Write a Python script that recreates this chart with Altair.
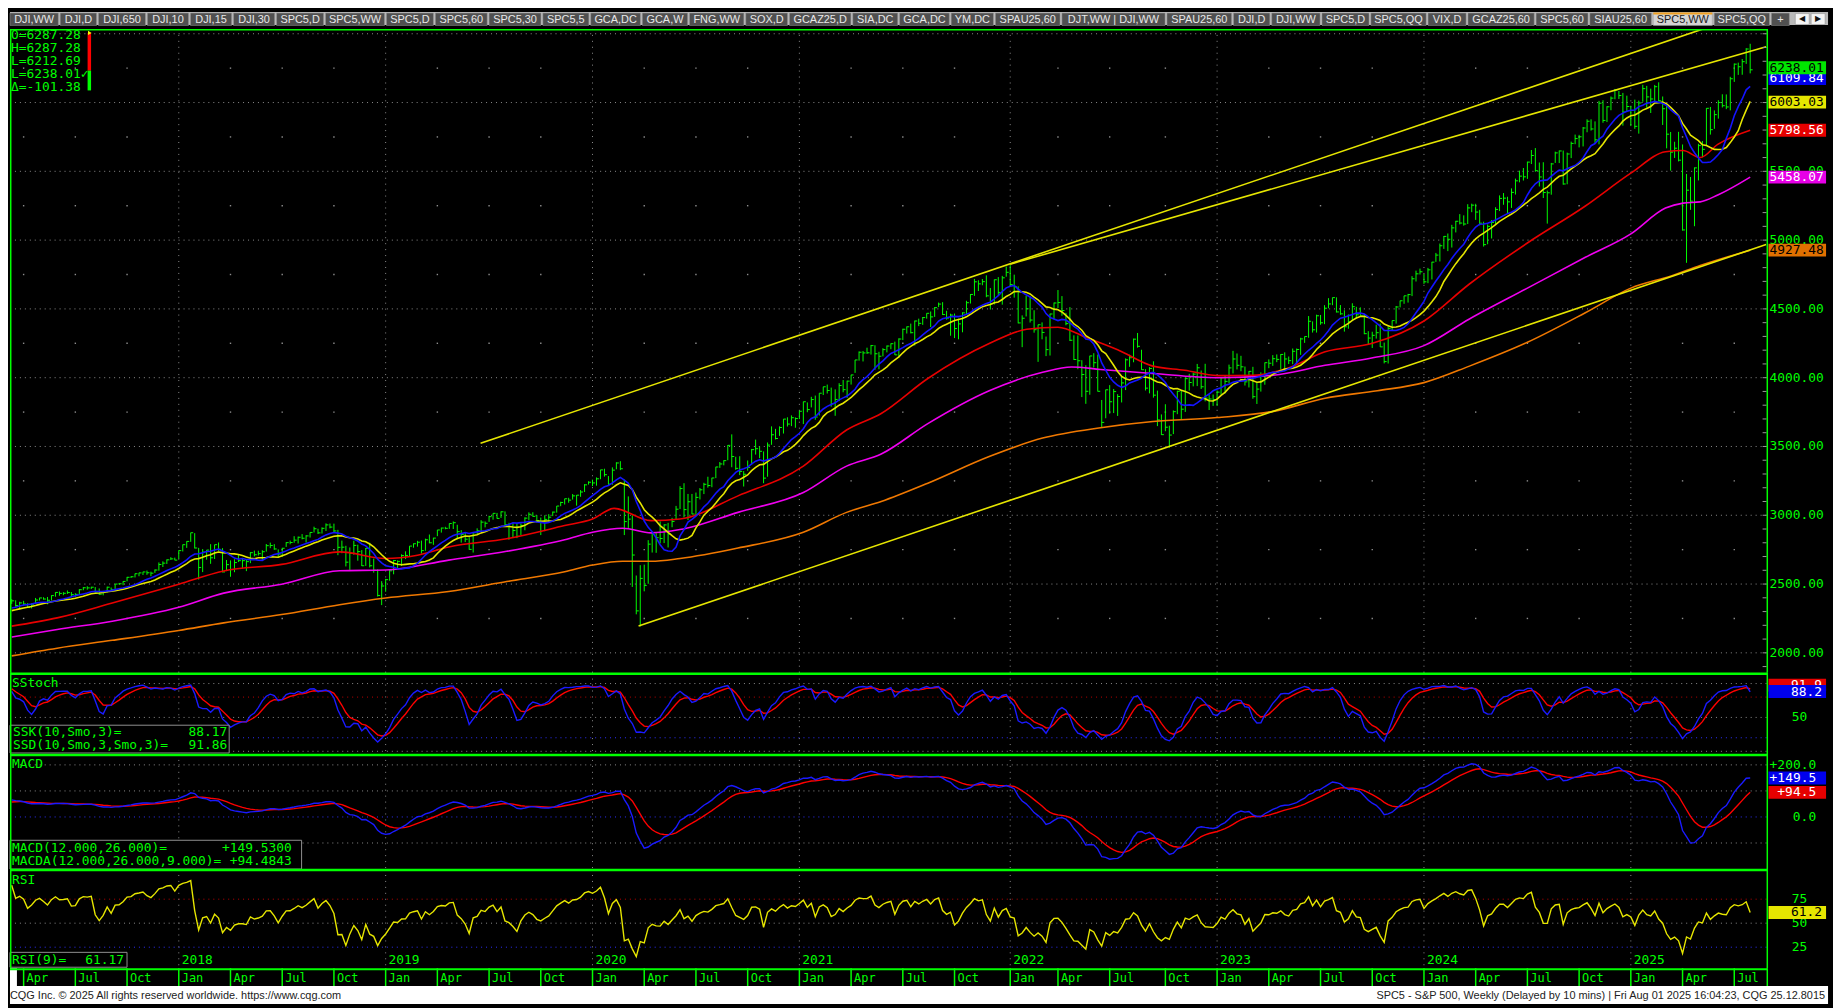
import altair as alt
import pandas as pd
import numpy as np

# ---------------- weekly S&P 500 bars ----------------
# warm-up weeks (Nov 2016 - Mar 10 2017), not displayed, feed the studies
close_w = [2085, 2164, 2182, 2213, 2192, 2259, 2258, 2264, 2239, 2277, 2275, 2271, 2295, 2297, 2316, 2351, 2367, 2383, 2372]
high_w = [2112, 2182, 2189, 2214, 2214, 2260, 2278, 2272, 2273, 2282, 2279, 2278, 2300, 2299, 2319, 2352, 2368, 2401, 2383]
low_w = [2084, 2084, 2156, 2184, 2187, 2192, 2248, 2253, 2233, 2245, 2258, 2258, 2262, 2268, 2288, 2312, 2349, 2358, 2355]

close_2017 = [2378, 2344, 2363, 2355, 2329, 2349, 2384, 2399, 2391, 2382, 2416, 2439, 2432, 2433, 2438, 2423, 2425, 2459, 2473, 2472, 2477, 2441, 2426, 2443, 2477, 2461, 2500, 2502, 2519, 2549, 2553, 2575, 2581, 2588, 2582, 2579, 2602, 2642, 2652, 2676, 2683, 2674]
high_2017 = [2390, 2382, 2371, 2378, 2361, 2361, 2399, 2400, 2404, 2406, 2418, 2440, 2446, 2441, 2453, 2442, 2433, 2463, 2478, 2484, 2480, 2478, 2468, 2451, 2481, 2475, 2500, 2508, 2520, 2552, 2557, 2576, 2582, 2589, 2598, 2590, 2606, 2657, 2665, 2679, 2695, 2692]
low_2017 = [2356, 2335, 2322, 2344, 2328, 2323, 2355, 2380, 2387, 2353, 2380, 2408, 2415, 2419, 2428, 2405, 2407, 2421, 2455, 2459, 2464, 2437, 2421, 2418, 2438, 2447, 2464, 2496, 2492, 2520, 2544, 2548, 2557, 2566, 2567, 2557, 2581, 2597, 2624, 2646, 2675, 2673]

close_2018 = [2743, 2786, 2810, 2873, 2762, 2620, 2732, 2747, 2691, 2786, 2752, 2588, 2641, 2605, 2656, 2670, 2670, 2663, 2728, 2713, 2721, 2735, 2779, 2780, 2755, 2718, 2760, 2801, 2802, 2819, 2840, 2833, 2850, 2875, 2902, 2872, 2905, 2930, 2914, 2886, 2767, 2768, 2659, 2723, 2781, 2736, 2633, 2760, 2633, 2600, 2417, 2486]
high_2018 = [2745, 2787, 2811, 2873, 2870, 2763, 2754, 2747, 2790, 2786, 2802, 2761, 2675, 2672, 2680, 2717, 2683, 2682, 2732, 2743, 2742, 2746, 2791, 2801, 2790, 2752, 2763, 2804, 2816, 2848, 2845, 2863, 2855, 2876, 2917, 2902, 2912, 2941, 2940, 2939, 2894, 2816, 2778, 2766, 2815, 2786, 2747, 2762, 2800, 2685, 2607, 2521]
low_2018 = [2683, 2737, 2763, 2807, 2759, 2533, 2587, 2677, 2647, 2682, 2741, 2585, 2594, 2553, 2586, 2660, 2613, 2594, 2652, 2701, 2707, 2676, 2736, 2761, 2749, 2699, 2698, 2770, 2789, 2800, 2795, 2825, 2802, 2838, 2875, 2864, 2867, 2886, 2905, 2874, 2710, 2724, 2628, 2603, 2713, 2670, 2631, 2632, 2621, 2583, 2409, 2347]

close_2019 = [2532, 2596, 2671, 2665, 2707, 2708, 2776, 2793, 2804, 2743, 2822, 2800, 2834, 2893, 2907, 2905, 2940, 2946, 2881, 2860, 2826, 2752, 2873, 2887, 2950, 2942, 2990, 3014, 2977, 3025, 2932, 2919, 2889, 2847, 2926, 2979, 3007, 2992, 2962, 2952, 2970, 2986, 3023, 3067, 3093, 3120, 3110, 3141, 3146, 3169, 3221, 3240]
high_2019 = [2538, 2604, 2675, 2672, 2716, 2738, 2776, 2795, 2814, 2816, 2830, 2860, 2836, 2893, 2910, 2916, 2940, 2955, 2931, 2892, 2875, 2841, 2877, 2905, 2964, 2955, 2996, 3014, 3017, 3028, 3028, 2945, 2944, 2939, 2940, 2985, 3021, 3022, 3002, 2983, 3000, 3008, 3027, 3067, 3098, 3120, 3127, 3154, 3147, 3183, 3226, 3247]
low_2019 = [2444, 2524, 2571, 2613, 2631, 2682, 2699, 2764, 2772, 2722, 2742, 2796, 2785, 2848, 2874, 2898, 2901, 2900, 2825, 2801, 2805, 2750, 2729, 2859, 2880, 2912, 2952, 2968, 2975, 2981, 2914, 2822, 2840, 2834, 2856, 2891, 2964, 2990, 2946, 2856, 2884, 2952, 2994, 3019, 3066, 3078, 3091, 3114, 3070, 3134, 3169, 3223]

close_2020 = [3235, 3265, 3330, 3295, 3226, 3328, 3380, 3338, 2954, 2972, 2711, 2305, 2541, 2489, 2790, 2875, 2837, 2831, 2930, 2864, 2955, 3044, 3194, 3041, 3098, 3009, 3130, 3185, 3225, 3216, 3271, 3351, 3373, 3397, 3508, 3427, 3341, 3319, 3298, 3348, 3477, 3484, 3465, 3270, 3510, 3585, 3558, 3638, 3699, 3663, 3709, 3703, 3756]
high_2020 = [3259, 3275, 3330, 3338, 3285, 3348, 3385, 3393, 3259, 3137, 3000, 2562, 2637, 2641, 2819, 2880, 2870, 2955, 2934, 2945, 2981, 3068, 3211, 3233, 3155, 3155, 3165, 3198, 3236, 3280, 3272, 3352, 3387, 3399, 3510, 3588, 3425, 3429, 3321, 3398, 3482, 3550, 3501, 3464, 3529, 3646, 3628, 3646, 3699, 3712, 3726, 3711, 3760]
low_2020 = [3212, 3215, 3262, 3281, 3214, 3222, 3334, 3328, 2856, 2901, 2479, 2280, 2191, 2447, 2502, 2729, 2727, 2797, 2798, 2766, 2913, 2969, 3045, 2984, 2965, 3008, 3002, 3115, 3154, 3201, 3204, 3270, 3344, 3363, 3400, 3349, 3330, 3292, 3209, 3324, 3366, 3441, 3415, 3233, 3280, 3512, 3551, 3577, 3594, 3645, 3648, 3636, 3699]

close_2021 = [3825, 3768, 3841, 3714, 3887, 3934, 3907, 3811, 3842, 3943, 3913, 3975, 4020, 4129, 4185, 4180, 4181, 4233, 4174, 4156, 4204, 4230, 4247, 4166, 4281, 4352, 4370, 4327, 4412, 4395, 4437, 4468, 4442, 4509, 4535, 4459, 4433, 4455, 4357, 4391, 4471, 4545, 4605, 4697, 4682, 4698, 4595, 4538, 4712, 4620, 4726, 4766]
high_2021 = [3826, 3820, 3861, 3870, 3887, 3934, 3950, 3928, 3915, 3960, 3983, 3978, 4021, 4129, 4191, 4194, 4218, 4238, 4236, 4188, 4214, 4234, 4249, 4262, 4286, 4356, 4372, 4393, 4415, 4429, 4441, 4468, 4481, 4513, 4546, 4549, 4486, 4465, 4466, 4429, 4475, 4559, 4608, 4718, 4708, 4717, 4744, 4652, 4713, 4731, 4740, 4808]
low_2021 = [3663, 3749, 3784, 3694, 3725, 3874, 3885, 3789, 3723, 3830, 3894, 3853, 3950, 4035, 4124, 4118, 4173, 4168, 4057, 4061, 4155, 4184, 4207, 4165, 4144, 4273, 4321, 4322, 4234, 4375, 4384, 4429, 4368, 4442, 4513, 4456, 4422, 4305, 4288, 4279, 4330, 4461, 4539, 4595, 4630, 4672, 4585, 4495, 4532, 4600, 4531, 4734]

close_2022 = [4677, 4663, 4398, 4432, 4501, 4419, 4349, 4385, 4329, 4204, 4463, 4543, 4546, 4488, 4393, 4272, 4132, 4123, 4023, 3901, 4158, 4109, 3901, 3675, 3912, 3825, 3899, 3863, 3962, 4130, 4145, 4280, 4228, 4058, 3924, 4067, 3873, 3693, 3586, 3640, 3583, 3753, 3901, 3771, 3993, 3965, 4026, 4072, 3934, 3852, 3845, 3840]
high_2022 = [4818, 4749, 4664, 4453, 4595, 4590, 4490, 4385, 4402, 4299, 4465, 4546, 4637, 4593, 4471, 4513, 4308, 4307, 4127, 4090, 4159, 4178, 4168, 3838, 3913, 3946, 3918, 3880, 4013, 4140, 4167, 4284, 4325, 4203, 4062, 4077, 4119, 3906, 3733, 3807, 3651, 3762, 3905, 3912, 4001, 4028, 4035, 4100, 4052, 4101, 3876, 3878]
low_2022 = [4662, 4582, 4395, 4222, 4445, 4401, 4327, 4115, 4279, 4157, 4161, 4424, 4506, 4450, 4381, 4267, 4129, 4062, 3859, 3810, 3876, 4074, 3900, 3636, 3705, 3738, 3743, 3722, 3820, 3910, 4079, 4112, 4218, 4057, 3907, 3886, 3855, 3648, 3584, 3611, 3491, 3590, 3735, 3698, 3751, 3906, 3937, 3939, 3918, 3828, 3765, 3795]

close_2023 = [3895, 3999, 3973, 4071, 4136, 4090, 4079, 3970, 4046, 3862, 3917, 3971, 4109, 4105, 4138, 4133, 4169, 4136, 4124, 4192, 4205, 4282, 4299, 4410, 4348, 4450, 4399, 4505, 4536, 4582, 4478, 4464, 4370, 4406, 4516, 4457, 4450, 4320, 4288, 4308, 4327, 4224, 4117, 4358, 4415, 4514, 4559, 4595, 4604, 4719, 4755, 4770]
high_2023 = [3907, 4004, 4015, 4095, 4195, 4176, 4159, 4081, 4048, 4079, 3964, 4039, 4110, 4133, 4164, 4169, 4171, 4184, 4154, 4212, 4212, 4290, 4299, 4448, 4409, 4458, 4456, 4527, 4578, 4582, 4584, 4528, 4490, 4460, 4541, 4515, 4511, 4464, 4338, 4334, 4385, 4393, 4255, 4374, 4415, 4521, 4560, 4595, 4609, 4738, 4778, 4793]
low_2023 = [3794, 3877, 3886, 3959, 4031, 4060, 4047, 3943, 3929, 3847, 3809, 3899, 3949, 4069, 4086, 4113, 4049, 4048, 4099, 4098, 4103, 4166, 4253, 4290, 4328, 4328, 4385, 4389, 4505, 4527, 4474, 4457, 4335, 4356, 4415, 4430, 4447, 4316, 4238, 4216, 4284, 4223, 4104, 4103, 4340, 4393, 4511, 4537, 4546, 4593, 4699, 4750]

close_2024 = [4697, 4784, 4840, 4891, 4959, 5027, 5006, 5089, 5137, 5124, 5117, 5234, 5254, 5204, 5123, 4967, 5100, 5128, 5223, 5303, 5305, 5278, 5347, 5431, 5465, 5460, 5567, 5615, 5505, 5459, 5346, 5344, 5554, 5634, 5648, 5408, 5626, 5703, 5738, 5751, 5815, 5864, 5808, 5729, 5995, 5870, 5969, 6032, 6090, 6051, 5931, 5971]
high_2024 = [4754, 4798, 4842, 4907, 4975, 5030, 5048, 5111, 5140, 5189, 5180, 5261, 5265, 5264, 5220, 5134, 5114, 5146, 5239, 5325, 5342, 5315, 5376, 5447, 5505, 5524, 5570, 5655, 5669, 5564, 5566, 5360, 5561, 5643, 5651, 5651, 5636, 5716, 5767, 5765, 5822, 5878, 5878, 5863, 6012, 6017, 5973, 6044, 6099, 6085, 6070, 6050]
low_2024 = [4682, 4687, 4714, 4842, 4845, 4936, 4920, 4946, 5056, 5114, 5105, 5117, 5203, 5147, 5107, 4953, 4970, 5012, 5114, 5211, 5257, 5191, 5234, 5331, 5420, 5433, 5445, 5553, 5497, 5390, 5306, 5120, 5330, 5561, 5560, 5403, 5406, 5596, 5697, 5674, 5681, 5784, 5796, 5706, 5696, 5853, 5858, 5944, 6024, 6026, 5832, 5933]

close_2025 = [5942, 5827, 5997, 6101, 6041, 6026, 6115, 6013, 5955, 5770, 5639, 5668, 5581, 5074, 5363, 5283, 5525, 5687, 5660, 5958, 5803, 5912, 6000, 5977, 5968, 6173, 6279, 6260, 6297, 6389, 6238]
high_2025 = [5977, 6021, 6014, 6129, 6121, 6101, 6128, 6147, 6044, 5986, 5786, 5715, 5787, 5695, 5481, 5459, 5528, 5700, 5720, 5959, 5968, 5943, 6017, 6060, 6059, 6187, 6284, 6290, 6316, 6395, 6427]
low_2025 = [5829, 5809, 5774, 6006, 5962, 5924, 6004, 6009, 5837, 5667, 5505, 5597, 5572, 5069, 4835, 5220, 5101, 5434, 5603, 5691, 5767, 5809, 5883, 5964, 5952, 5943, 6150, 6201, 6202, 6281, 6212]

# moving averages (red, magenta, orange)
ma_red_d = ["2017-03-17", "2017-06-05", "2017-09-10", "2018-01-05", "2018-03-25", "2018-07-05", "2018-10-15", "2019-01-04", "2019-03-01", "2019-04-25", "2019-08-05", "2019-11-15", "2020-01-03", "2020-02-10", "2020-04-15", "2020-06-05", "2020-09-15", "2021-01-08", "2021-03-25", "2021-05-25", "2021-08-15", "2021-12-01", "2022-02-05", "2022-04-01", "2022-05-20", "2022-07-15", "2022-09-15", "2022-11-10", "2023-01-06", "2023-03-10", "2023-05-10", "2023-07-15", "2023-10-05", "2024-01-05", "2024-03-25", "2024-07-05", "2024-10-15", "2025-01-03", "2025-03-05", "2025-04-05", "2025-05-05", "2025-06-05", "2025-08-01"]
ma_red_v = [2194, 2254, 2362, 2499, 2595, 2643, 2734, 2686, 2710, 2770, 2829, 2925, 2973, 3050, 2961, 2973, 3141, 3357, 3620, 3740, 3994, 4248, 4352, 4367, 4293, 4203, 4084, 4054, 4015, 4018, 4069, 4188, 4248, 4412, 4681, 4979, 5248, 5487, 5642, 5651, 5600, 5696, 5799]
ma_mag_d = ["2017-03-17", "2017-06-05", "2017-09-10", "2018-01-05", "2018-03-25", "2018-07-05", "2018-10-15", "2019-01-04", "2019-04-25", "2019-08-05", "2019-11-15", "2020-01-03", "2020-02-25", "2020-04-15", "2020-06-05", "2020-09-15", "2021-01-08", "2021-03-25", "2021-05-25", "2021-08-15", "2021-12-01", "2022-03-05", "2022-04-25", "2022-06-15", "2022-09-15", "2023-01-06", "2023-04-15", "2023-07-15", "2023-10-05", "2024-01-05", "2024-03-25", "2024-07-05", "2024-10-15", "2025-01-03", "2025-03-05", "2025-04-05", "2025-05-05", "2025-06-05", "2025-08-01"]
ma_mag_v = [2115, 2170, 2230, 2331, 2434, 2499, 2597, 2602, 2674, 2738, 2822, 2877, 2906, 2872, 2896, 3021, 3165, 3357, 3445, 3666, 3905, 4039, 4078, 4060, 4030, 4000, 4018, 4090, 4143, 4233, 4427, 4651, 4875, 5045, 5233, 5269, 5278, 5328, 5458]
ma_org_d = ["2017-03-17", "2017-06-05", "2017-09-10", "2018-01-05", "2018-03-25", "2018-07-05", "2018-10-15", "2019-01-04", "2019-04-25", "2019-08-05", "2019-11-15", "2020-01-03", "2020-02-25", "2020-04-15", "2020-06-05", "2020-09-15", "2021-01-08", "2021-03-25", "2021-05-25", "2021-08-15", "2021-12-01", "2022-03-05", "2022-06-15", "2022-09-15", "2023-01-06", "2023-04-15", "2023-07-15", "2023-10-15", "2024-01-05", "2024-03-25", "2024-07-05", "2024-10-15", "2025-01-03", "2025-03-15", "2025-05-05", "2025-08-01"]
ma_org_v = [1978, 2034, 2091, 2163, 2218, 2278, 2350, 2398, 2446, 2518, 2590, 2638, 2666, 2666, 2686, 2762, 2877, 3021, 3100, 3233, 3427, 3561, 3636, 3681, 3710, 3755, 3851, 3905, 3964, 4084, 4257, 4472, 4651, 4740, 4815, 4927]

# yellow channel lines (start date/value, end date/value)
tl_d1 = ["2019-06-20", "2022-01-07", "2020-03-24"]
tl_v1 = [3523, 4825, 2195]
tl_d2 = ["2025-05-10", "2025-08-29", "2025-08-29"]
tl_v2 = [6535, 6405, 4968]

# study values shown in the boxes
last_vals = {"close": 6238.01, "blue": 6109.84, "yellow": 6003.03, "red": 5798.56, "magenta": 5458.07, "orange": 4927.48}
ssk_last, ssd_last = 88.17, 91.86
macd_last, macda_last = 149.53, 94.4843
rsi_last = 61.17

tab_labels = ["DJI,WW", "DJI,D", "DJI,650", "DJI,10", "DJI,15", "DJI,30", "SPC5,D", "SPC5,WW", "SPC5,D", "SPC5,60", "SPC5,30", "SPC5,5", "GCA,DC", "GCA,W", "FNG,WW", "SOX,D", "GCAZ25,D", "SIA,DC", "GCA,DC", "YM,DC", "SPAU25,60", "DJT,WW  |  DJI,WW", "SPAU25,60", "DJI,D", "DJI,WW", "SPC5,D", "SPC5,QQ", "VIX,D", "GCAZ25,60", "SPC5,60", "SIAU25,60", "SPC5,WW", "SPC5,QQ", "+"]
SEL_TAB = 31

# ---------------- assemble ----------------
closes = close_w + close_2017 + close_2018 + close_2019 + close_2020 + close_2021 + close_2022 + close_2023 + close_2024 + close_2025
highs = high_w + high_2017 + high_2018 + high_2019 + high_2020 + high_2021 + high_2022 + high_2023 + high_2024 + high_2025
lows = low_w + low_2017 + low_2018 + low_2019 + low_2020 + low_2021 + low_2022 + low_2023 + low_2024 + low_2025
assert len(closes) == len(highs) == len(lows) == 457, (len(closes), len(highs), len(lows))

dates = pd.date_range("2016-11-04", periods=len(closes), freq="W-FRI")
df = pd.DataFrame({"date": dates, "close": np.array(closes, float), "high": np.array(highs, float), "low": np.array(lows, float)})
df["high"] = np.maximum(df["high"], df["close"])
df["low"] = np.minimum(df["low"], df["close"])
df["blue"] = df["close"].rolling(11).mean()
df["yellow"] = df["close"].rolling(15).mean()
hh = df["high"].rolling(10).max()
ll = df["low"].rolling(10).min()
fk = 100 * (df["close"] - ll) / (hh - ll)
df["ssk"] = fk.ewm(alpha=1 / 3, adjust=False).mean()
df["ssd"] = df["ssk"].ewm(alpha=1 / 3, adjust=False).mean()
e12 = df["close"].ewm(span=12, adjust=False).mean()
e26 = df["close"].ewm(span=26, adjust=False).mean()
df["macd"] = e12 - e26
df["sig"] = df["macd"].ewm(span=9, adjust=False).mean()
dd = df["close"].diff()
ag = dd.clip(lower=0).ewm(alpha=1 / 9, adjust=False).mean()
al = (-dd).clip(lower=0).ewm(alpha=1 / 9, adjust=False).mean()
df["rsi"] = 100 - 100 / (1 + ag / al)
dfd = df[df["date"] >= pd.Timestamp("2017-03-17")].reset_index(drop=True)

mdf = dfd[["date"]].copy()
mdf["y"] = mdf["date"].dt.year
mdf["m"] = mdf["date"].dt.month
firsts = mdf.groupby(["y", "m"], as_index=False)["date"].min()
qf = firsts[firsts["m"].isin([1, 4, 7, 10])].copy()
qf["lab"] = qf["m"].map({1: "Jan", 4: "Apr", 7: "Jul", 10: "Oct"})
yr = qf[qf["m"] == 1].copy()
yr["ylab"] = yr["y"].astype(str)
qq = qf[qf["m"] != 1]

# ---------------- layout ----------------
W = 1833
PX = 1771
H_TABS, H_MAIN, H_STO, H_MACD, H_RSI, H_XAX, H_FOOT = 17, 649, 82, 116, 100, 18, 18
GREEN = "#00ff00"
GRID = "#8c8c8c"
MONO = "DejaVu Sans Mono"
SANS = "Liberation Sans"
X_DOMAIN = [alt.DateTime(year=2017, month=3, date=14), alt.DateTime(year=2025, month=12, date=16)]
MAIN_DOM = [1856, 6535]
STO_DOM = [-3.95, 116.1]
MACD_DOM = [-200, 241.9]
RSI_DOM = [3.1, 106.4]

one = pd.DataFrame({"k": [0]})


def XT(field="date"):
    return alt.X(f"{field}:T", scale=alt.Scale(domain=X_DOMAIN), axis=None)


def Y(field, dom):
    return alt.Y(f"{field}:Q", scale=alt.Scale(domain=dom, nice=False, zero=False), axis=None)


def txt(s, x, y, color=GREEN, size=13, align="left", font=MONO):
    return alt.Chart(one).mark_text(text=s, align=align, baseline="middle", font=font, fontSize=size, color=color).encode(
        x=alt.value(x), y=alt.value(y))


def prule(x1, x2, y1, y2, color, width=1.0, dash=None):
    kw = dict(color=color, strokeWidth=width)
    if dash:
        kw["strokeDash"] = dash
    return alt.Chart(one).mark_rule(**kw).encode(x=alt.value(x1), x2=alt.value(x2), y=alt.value(y1), y2=alt.value(y2))


def prect(x1, x2, y1, y2, fill, stroke=None, sw=1.0):
    kw = dict(fill=fill)
    if stroke:
        kw.update(stroke=stroke, strokeWidth=sw)
    return alt.Chart(one).mark_rect(**kw).encode(x=alt.value(x1), x2=alt.value(x2), y=alt.value(y1), y2=alt.value(y2))


def vbox(val, label, fill, tcolor, dom, yoff=0, x0=1773, x1=1831, tx=1827, align="right", h=13):
    d = pd.DataFrame({"v": [val]})
    r = alt.Chart(d).mark_rule(color=fill, strokeWidth=h, yOffset=yoff, y2Offset=yoff).encode(
        x=alt.value(x0), x2=alt.value(x1), y=Y("v", dom))
    t = alt.Chart(d).mark_text(text=label, align=align, baseline="middle", font=MONO, fontSize=13, color=tcolor,
                               yOffset=yoff).encode(x=alt.value(tx), y=Y("v", dom))
    return [r, t]


def hlines(levels, colors, dom):
    d = pd.DataFrame({"v": levels, "c": colors})
    return alt.Chart(d).mark_rule(strokeDash=[1, 4], strokeWidth=1).encode(
        x=alt.value(0), x2=alt.value(PX), y=Y("v", dom), color=alt.Color("c:N", scale=None))


def vlines(h):
    return alt.Chart(yr).mark_rule(color=GRID, strokeDash=[1, 5], strokeWidth=1).encode(
        x=XT(), y=alt.value(0), y2=alt.value(h))


def frame(h, top=True):
    out = [prule(PX + 0.75, PX + 0.75, 0, h, GREEN, 1.5), prule(0.75, 0.75, 0, h, GREEN, 1.5)]
    if top:
        out.append(prule(0, PX + 1, 1, 1, GREEN, 2.5))
    return out


# ---------------- tabs ----------------
def cw(c):
    if c == "W":
        return 10.0
    if c in "MGOQ":
        return 8.0
    if c in "DCAUVHNZ":
        return 7.3
    if c in "SPYFXTEBKR":
        return 6.8
    if c == "J":
        return 5.0
    if c in "I|":
        return 3.5
    if c == ",":
        return 3.3
    if c.isdigit():
        return 6.2
    if c == " ":
        return 3.0
    if c == "+":
        return 7.0
    return 6.5


raw = [sum(cw(c) for c in s) + 12 for s in tab_labels]
gap = 2.0
scl = 1794.0 / (sum(raw) + gap * (len(raw) - 1))
x0s, x1s = [], []
xc = 0.0
for wv in raw:
    x0s.append(xc)
    x1s.append(xc + wv * scl)
    xc += (wv + gap) * scl
tabs = pd.DataFrame({"lab": tab_labels, "x0": x0s, "x1": x1s, "sel": [i == SEL_TAB for i in range(len(tab_labels))]})
tabs["xm"] = (tabs["x0"] + tabs["x1"]) / 2
PXS = alt.Scale(domain=[0, W], range=[0, W], nice=False, zero=False)
tab_layers = [
    prect(0, W, 0, 13, "#b9b9b9"),
    alt.Chart(tabs).mark_rect(stroke="#9a9a9a", strokeWidth=0.5).encode(
        x=alt.X("x0:Q", scale=PXS, axis=None), x2="x1:Q", y=alt.value(1), y2=alt.value(13.5),
        fill=alt.condition("datum.sel", alt.value("#d4d4d4"), alt.value("#505050"))),
    alt.Chart(tabs).transform_filter("datum.sel").mark_rule(color="#f0a020", strokeWidth=2).encode(
        x=alt.X("x0:Q", scale=PXS, axis=None), x2="x1:Q", y=alt.value(1.5)),
    alt.Chart(tabs).mark_text(font=SANS, fontSize=11, baseline="middle", align="center").encode(
        x=alt.X("xm:Q", scale=PXS, axis=None), y=alt.value(7.8), text="lab:N",
        color=alt.condition("datum.sel", alt.value("#1a1a1a"), alt.value("#e8e8e8"))),
    prect(1800, 1814, 1.5, 12.5, "#f4f4f4", "#888888", 0.5),
    prect(1816, 1830, 1.5, 12.5, "#f4f4f4", "#888888", 0.5),
    txt("◀", 1807, 7.5, "#111111", 8, "center", SANS),
    txt("▶", 1823, 7.5, "#111111", 8, "center", SANS),
]
tab_chart = alt.layer(*tab_layers).properties(width=W, height=H_TABS)

# ---------------- main price panel ----------------
hg = pd.DataFrame({"v": list(range(2000, 6501, 500))})
qdots = qq[["date"]].merge(pd.DataFrame({"v": list(range(2250, 6300, 500))}), how="cross")
ma_red = pd.DataFrame({"date": pd.to_datetime(ma_red_d), "v": ma_red_v})
ma_mag = pd.DataFrame({"date": pd.to_datetime(ma_mag_d), "v": ma_mag_v})
ma_org = pd.DataFrame({"date": pd.to_datetime(ma_org_d), "v": ma_org_v})
tls = pd.DataFrame({"d1": pd.to_datetime(tl_d1), "v1": tl_v1, "d2": pd.to_datetime(tl_d2), "v2": tl_v2})
ticks100 = pd.DataFrame({"v": list(range(1900, 6501, 100))})
axlab = pd.DataFrame({"v": list(range(2000, 5501, 500))})
axlab["t"] = axlab["v"].map(lambda v: f"{v}.00")

main_layers = [
    alt.Chart(hg).mark_rule(color=GRID, strokeDash=[1, 4], strokeWidth=1).encode(
        x=alt.value(0), x2=alt.value(PX), y=Y("v", MAIN_DOM)),
    vlines(H_MAIN),
    alt.Chart(qdots).mark_square(size=2, color=GRID, opacity=1).encode(x=XT(), y=Y("v", MAIN_DOM)),
    alt.Chart(dfd).mark_rule(color=GREEN, strokeWidth=1).encode(x=XT(), y=Y("low", MAIN_DOM), y2="high:Q"),
    alt.Chart(dfd).mark_rule(color=GREEN, strokeWidth=1, x2Offset=2.5).encode(
        x=XT(), x2=alt.X2("date:T"), y=Y("close", MAIN_DOM)),
    alt.Chart(ma_org).mark_line(color="#f07800", strokeWidth=1.6, interpolate="monotone").encode(x=XT(), y=Y("v", MAIN_DOM)),
    alt.Chart(ma_mag).mark_line(color="#f000f0", strokeWidth=1.6, interpolate="monotone").encode(x=XT(), y=Y("v", MAIN_DOM)),
    alt.Chart(ma_red).mark_line(color="#e80000", strokeWidth=1.6, interpolate="monotone").encode(x=XT(), y=Y("v", MAIN_DOM)),
    alt.Chart(dfd).mark_line(color="#e6e600", strokeWidth=1.6).encode(x=XT(), y=Y("yellow", MAIN_DOM)),
    alt.Chart(dfd).mark_line(color="#1414ff", strokeWidth=1.6).encode(x=XT(), y=Y("blue", MAIN_DOM)),
    alt.Chart(tls).mark_rule(color="#e6e600", strokeWidth=1.6, clip=True).encode(
        x=XT("d1"), x2=alt.X2("d2:T"), y=Y("v1", MAIN_DOM), y2=alt.Y2("v2:Q")),
    alt.Chart(ticks100).mark_rule(color="#9a9a9a", strokeWidth=1).encode(
        x=alt.value(PX - 4), x2=alt.value(PX), y=Y("v", MAIN_DOM)),
    alt.Chart(axlab).mark_text(align="left", baseline="middle", font=MONO, fontSize=13, color=GREEN).encode(
        x=alt.value(1774), y=Y("v", MAIN_DOM), text="t:N"),
]
main_layers += vbox(last_vals["orange"], "4927.48", "#e07000", "#000000", MAIN_DOM, 0, tx=1774, align="left")
main_layers += vbox(last_vals["magenta"], "5458.07", "#e600e6", "#ffffff", MAIN_DOM, 0, tx=1774, align="left")
main_layers += vbox(last_vals["red"], "5798.56", "#e60000", "#ffffff", MAIN_DOM, 0, tx=1774, align="left")
main_layers += vbox(last_vals["yellow"], "6003.03", "#e6e600", "#000000", MAIN_DOM, 0, tx=1774, align="left")
main_layers += vbox(last_vals["blue"], "6109.84", "#0000ee", "#ffffff", MAIN_DOM, -9, tx=1774, align="left")
main_layers += vbox(last_vals["close"], "6238.01", "#00e600", "#000000", MAIN_DOM, -2, tx=1774, align="left")
main_layers += [
    txt("O=6287.28", 1, 6.5), txt("H=6287.28", 1, 19.5), txt("L=6212.69", 1, 32.5),
    txt("L=6238.01✓", 1, 45.5), txt("Δ=-101.38", 1, 58.5),
    prule(80, 80, 4, 42, "#ff0000", 3.5), prule(80, 80, 42, 62, "#00ff00", 3.5),
    alt.Chart(one).mark_point(shape="triangle-right", filled=True, size=18, color="#ffff00", opacity=1).encode(
        x=alt.value(80.5), y=alt.value(4)),
]
main_layers += frame(H_MAIN, top=False)
main_layers.append(prule(0, PX + 1, 0.75, 0.75, GREEN, 1.5))
main_chart = alt.layer(*main_layers).properties(width=W, height=H_MAIN)

# ---------------- slow stochastic ----------------
sto_layers = [
    hlines([100, 80, 50, 20, 0], [GRID, "#c00000", GRID, "#3030ff", GRID], STO_DOM),
    vlines(H_STO),
    alt.Chart(dfd).mark_line(color="#ff0000", strokeWidth=1.4).encode(x=XT(), y=Y("ssd", STO_DOM)),
    alt.Chart(dfd).mark_line(color="#1a1aff", strokeWidth=1.4).encode(x=XT(), y=Y("ssk", STO_DOM)),
    txt("SStoch", 2, 10),
    prect(0, 221, 53, 81, "#000000", "#909090", 1),
    txt("SSK(10,Smo,3)=", 3, 60), txt(f"{ssk_last:.2f}", 219, 60, align="right"),
    txt("SSD(10,Smo,3,Smo,3)=", 3, 73), txt(f"{ssd_last:.2f}", 219, 73, align="right"),
]
sto_layers += [alt.Chart(pd.DataFrame({"v": [100, 50], "t": ["100", "50"]})).mark_text(
    align="right", baseline="middle", font=MONO, fontSize=13, color=GREEN).encode(
    x=alt.value(1812), y=Y("v", STO_DOM), text="t:N")]
sto_layers += vbox(ssd_last, f"{ssd_last:.1f}", "#e60000", "#ffffff", STO_DOM, -4)
sto_layers += vbox(ssk_last, f"{ssk_last:.1f}", "#0000ee", "#ffffff", STO_DOM, 0)
sto_layers += frame(H_STO)
sto_chart = alt.layer(*sto_layers).properties(width=W, height=H_STO)

# ---------------- MACD ----------------
macd_layers = [
    hlines([200, 100, 0, -100], [GRID, GRID, "#3030ff", GRID], MACD_DOM),
    vlines(H_MACD),
    alt.Chart(dfd).mark_line(color="#ff0000", strokeWidth=1.4, clip=True).encode(x=XT(), y=Y("sig", MACD_DOM)),
    alt.Chart(dfd).mark_line(color="#1a1aff", strokeWidth=1.4, clip=True).encode(x=XT(), y=Y("macd", MACD_DOM)),
    txt("MACD", 2, 10),
    prect(0, 294, 87, 116, "#000000", "#909090", 1),
    txt("MACD(12.000,26.000)=", 2, 94.5), txt(f"+{macd_last:.4f}", 284, 94.5, align="right"),
    txt("MACDA(12.000,26.000,9.000)=", 2, 107.5), txt(f"+{macda_last:.4f}", 284, 107.5, align="right"),
    alt.Chart(pd.DataFrame({"v": [200, 0], "t": ["+200.0", "0.0"]})).mark_text(
        align="right", baseline="middle", font=MONO, fontSize=13, color=GREEN).encode(
        x=alt.value(1821), y=Y("v", MACD_DOM), text="t:N"),
]
macd_layers += vbox(macd_last, f"+{macd_last:.1f}", "#0000ee", "#ffffff", MACD_DOM, 0, tx=1821)
macd_layers += vbox(macda_last, f"+{macda_last:.1f}", "#e60000", "#ffffff", MACD_DOM, 0, tx=1821)
macd_layers += frame(H_MACD)
macd_chart = alt.layer(*macd_layers).properties(width=W, height=H_MACD)

# ---------------- RSI ----------------
rsi_layers = [
    hlines([75, 50, 25], ["#c00000", GRID, "#3030ff"], RSI_DOM),
    vlines(H_RSI),
    alt.Chart(dfd).mark_line(color="#e6e600", strokeWidth=1.4, clip=True).encode(x=XT(), y=Y("rsi", RSI_DOM)),
    txt("RSI", 2, 11),
    alt.Chart(yr).mark_text(align="left", baseline="middle", font=MONO, fontSize=13, color=GREEN, dx=3).encode(
        x=XT(), y=alt.value(92), text="ylab:N"),
    prect(0, 118, 84, 99, "#000000", "#909090", 1),
    txt("RSI(9)=", 2, 91.5), txt(f"{rsi_last:.2f}", 115, 91.5, align="right"),
    alt.Chart(pd.DataFrame({"v": [75, 50, 25], "t": ["75", "50", "25"]})).mark_text(
        align="right", baseline="middle", font=MONO, fontSize=13, color=GREEN).encode(
        x=alt.value(1812), y=Y("v", RSI_DOM), text="t:N"),
]
rsi_layers += vbox(rsi_last, f"{rsi_last:.1f}", "#e6e600", "#000000", RSI_DOM, 0)
rsi_layers += frame(H_RSI)
rsi_chart = alt.layer(*rsi_layers).properties(width=W, height=H_RSI)

# ---------------- time axis band ----------------
xax_layers = [
    prect(0, 7, 0, 18, "#ffffff"),
    alt.Chart(qf).mark_rule(color=GREEN, strokeWidth=1.5).encode(x=XT(), y=alt.value(0), y2=alt.value(18)),
    alt.Chart(qf).mark_text(align="left", baseline="middle", font=MONO, fontSize=12, color=GREEN, dx=3).encode(
        x=XT(), y=alt.value(9.5), text="lab:N"),
    prule(0, PX + 1, 1, 1, GREEN, 2),
    prule(PX + 0.75, PX + 0.75, 0, 18, GREEN, 1.5),
]
xax_chart = alt.layer(*xax_layers).properties(width=W, height=H_XAX)

# ---------------- footer ----------------
foot_layers = [
    prect(0, W, 0, 18, "#ffffff"),
    txt("CQG Inc. © 2025 All rights reserved worldwide. https://www.cqg.com", 0, 10, "#222222", 11, "left", SANS),
    txt("SPC5 - S&P 500, Weekly (Delayed by 10 mins) | Fri Aug 01 2025 16:04:23, CQG 25.12.8015", W - 3, 10,
        "#222222", 11, "right", SANS),
]
foot_chart = alt.layer(*foot_layers).properties(width=W, height=H_FOOT)

chart = alt.vconcat(tab_chart, main_chart, sto_chart, macd_chart, rsi_chart, xax_chart, foot_chart,
                    spacing=0, bounds="flush").properties(background="#000000", padding=0).configure_view(
    strokeWidth=0).configure_concat(spacing=0)

chart.save("out.html", embed_options={"renderer": "svg", "actions": False})
